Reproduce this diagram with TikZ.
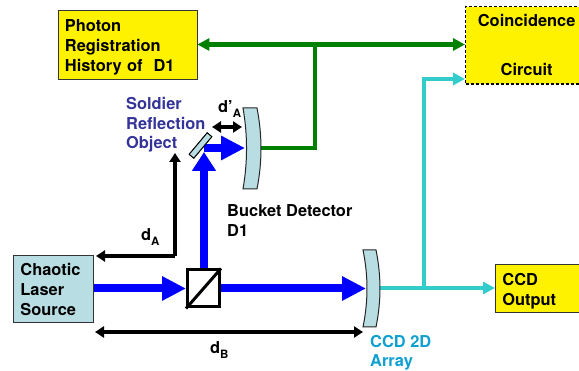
\documentclass[tikz,border=0pt]{standalone}
\usepackage{fontspec}
\setmainfont{TeX Gyre Heros}
\usetikzlibrary{arrows.meta}
\definecolor{pale}{HTML}{B8DDE2}
\definecolor{cyanline}{HTML}{33CCCC}
\definecolor{beam}{HTML}{0000FF}
\definecolor{greenline}{HTML}{008000}
\definecolor{soldier}{HTML}{333399}
\definecolor{ccdtext}{HTML}{0F9FD0}
\newcommand{\subA}[1]{{\fontsize{11.5}{11.5}\selectfont\raisebox{-5pt}{#1}}}
\tikzset{
  lbl/.style={inner sep=0pt,font=\fontsize{16.4}{20}\selectfont\bfseries,align=left},
  box/.style={lbl,draw=black!80,line width=0.9pt,minimum height=#1,anchor=north west,inner xsep=7pt},
  beamline/.style={draw=beam,line width=8pt,-{Triangle[length=24pt,width=23pt]}},
  shortbeam/.style={draw=beam,line width=8pt,-{Triangle[length=19pt,width=23pt]}},
  greenwire/.style={draw=greenline,line width=4.5pt},
  greenarrow/.style={greenwire,-{Triangle[length=12pt,width=12pt]}},
  cyanwire/.style={draw=cyanline,line width=4.5pt},
  cyanarrow/.style={cyanwire,-{Triangle[length=12pt,width=12pt]}},
  blackline/.style={draw=black,line width=3.5pt,-{Triangle[length=9pt,width=11pt]}},
  dimline/.style={draw=black,line width=3.5pt,{Triangle[length=9pt,width=11pt]}-{Triangle[length=9pt,width=11pt]}},
  optic/.style={draw=black!85,line width=1pt,fill=pale},
  mirrorstyle/.style={draw=black,line width=0.9pt,fill=pale,minimum width=28pt,minimum height=6pt,inner sep=0pt,rotate=50}
}
\begin{document}
\begin{tikzpicture}[x=1pt,y=-1pt]
\useasboundingbox (0,0) rectangle (579,371);
\clip (0,0) rectangle (579,371);

% boxes
\node[box=68.5pt,fill=yellow,text width=125pt] (photon) at (57.5,10.5) {\rule{0pt}{16pt}Photon\\Registration\\History of~~D1};
\node[box=77.5pt,fill=yellow,draw=black,densely dashed,line width=1.3pt,align=center,text width=108pt] (coinc) at (465,6) {Coincidence\\[29pt]Circuit};
\node[box=67pt,fill=pale,text width=66pt] (laser) at (13,255) {\rule{0pt}{14pt}Chaotic\\Laser\\Source};
\node[box=48pt,fill=yellow,text width=100pt] (ccdout) at (495,264) {\rule{0pt}{18pt}CCD\\Output};

% beam splitter and mirror
\node[draw=black,line width=3pt,fill=white,minimum width=32pt,minimum height=37pt,inner sep=0pt] (bs) at (203.5,288.5) {};
\node[mirrorstyle] (mirror) at (200.5,145.5) {};

% anchor points
\coordinate (bucketL) at (245,148);
\coordinate (bucketR) at (260,148);
\coordinate (arrayL) at (366,288.5);
\coordinate (arrayR) at (379,288);
\coordinate (bend) at (204,148);
\coordinate (beamtip) at (204,152);
\coordinate (gj) at (315,44.5);
\coordinate (gk) at (315,148);
\coordinate (cj) at (424,288);
\coordinate (ck) at (424,79);
\coordinate (ce) at (465,79);
\coordinate (dAtop) at (175,153);
\coordinate (dAbend) at (175,256);
\coordinate (dAend) at (96,256);
\coordinate (dpL) at (212,127);
\coordinate (dpR) at (242,127);
\coordinate (dbL) at (95,332);
\coordinate (dbR) at (363,332);

% wires
\draw[greenarrow] (gj) -- (gj -| photon.east);
\draw[greenarrow] (gj) -- (gj -| coinc.west);
\draw[greenwire,line join=miter] (gj) -- (gk) -- (bucketR);
\draw[cyanarrow] (arrayR) -- (arrayR -| ccdout.west);
\draw[cyanarrow,line join=miter] (cj) -- (ck) -- (ce);

% beams
\draw[beamline] (laser.east |- bs) -- (bs.west);
\draw[beamline] (bs.east) -- (arrayL);
\draw[shortbeam] (bs.north -| bend) -- (beamtip);
\draw[beamline] (bend) -- (bucketL);
\node[mirrorstyle] at (mirror) {};
\draw[line width=3pt] (bs.south west) -- (bs.north east);

% detectors
\draw[optic] (243,108) -- (257,108) .. controls (262.3,135) and (262.3,162) .. (257,189)
  -- (243,189) .. controls (247.7,162) and (247.7,135) .. (243,108) -- cycle;
\draw[optic] (363,250) -- (376,250) .. controls (381.3,276) and (381.3,301) .. (376,327)
  -- (363,327) .. controls (368.3,301) and (368.3,276) .. (363,250) -- cycle;

% distances
\draw[blackline,line join=miter] (dAbend) -- (dAtop);
\draw[blackline] (dAbend) -- (dAend);
\draw[dimline] (dpL) -- (dpR);
\draw[dimline] (dbL) -- (dbR);

% labels
\node[lbl,anchor=base west,text=soldier] (soldiertxt) at (126,110) {Soldier};
\node[lbl,anchor=base west,text=soldier] (refltxt) at (126,130) {Reflection};
\node[lbl,anchor=base west,text=soldier] (objtxt) at (126,149) {Object};
\node[lbl,anchor=base west] (dprime) at (218,113) {d’\subA{A}};
\node[lbl,anchor=base west] (da) at (141,241) {d\subA{A}};
\node[lbl,anchor=base west] (db) at (210,354) {d\subA{B}};
\node[lbl,anchor=base west] (bd1) at (227,217) {Bucket Detector};
\node[lbl,anchor=base west] (bd2) at (227,237) {D1};
\node[lbl,anchor=base west,text=ccdtext] (ccd1) at (370,348) {CCD 2D};
\node[lbl,anchor=base west,text=ccdtext] (ccd2) at (370,367) {Array};
\end{tikzpicture}
\end{document}
